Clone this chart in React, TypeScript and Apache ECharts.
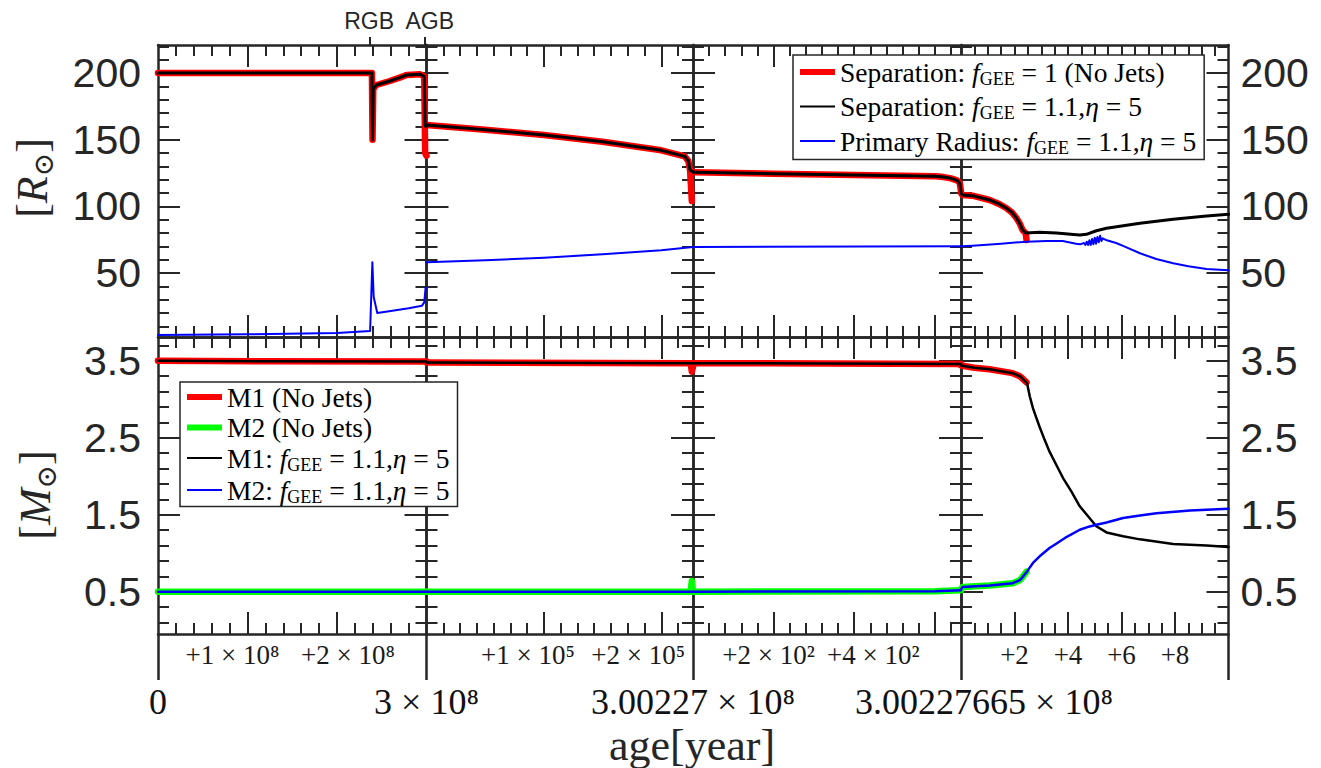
import React, { useEffect, useRef } from 'react';
import * as echarts from 'echarts';

const SERIF = '"Liberation Serif", "DejaVu Serif", serif';
const SANS = '"Liberation Sans", Arial, sans-serif';
const AX = '#262626';

// ---- axes (x per panel: P1 in 1e8 yr, P2 in 1e5 yr, P3 & P4 in yr, all offsets from panel start)
const PANEL_MAX = [3, 2.27, 665, 10];
const X_MAJOR = [[1, 2], [1, 2], [200, 400, 600], [2, 4, 6, 8]];
const X_MINOR_STEP = [0.2, 1 / 7, 40, 0.5];
const X_LABEL_VALUES = [[1, 2], [1, 2], [200, 400], [2, 4, 6, 8]];
const X_LABEL_TEXT = [
  ['+1 × 10⁸', '+2 × 10⁸'],
  ['+1 × 10⁵', '+2 × 10⁵'],
  ['+2 × 10²', '+4 × 10²'],
  ['+2', '+4', '+6', '+8'],
];
const X_LABEL_SHIFT = [[-15, 11], [-16, -23], [-5, 19], [0, 0, 0, 0]];
const EDGE_VALUES = [[0, 3], [2.27], [665], [] as number[]];
const EDGE_TEXT = [['0', '3 × 10⁸'], ['3.00227 × 10⁸'], ['3.00227665 × 10⁸'], [] as string[]];
const STAGE_VALUES = [2.37, 2.98];
const STAGE_TEXT = ['RGB', 'AGB'];
const STAGE_SHIFT = [-1, 5];
const Y_RANGE = [[2, 221], [-0.05, 3.81]];
const Y_MAJOR = [[50, 100, 150, 200], [0.5, 1.5, 2.5, 3.5]];
const Y_LABEL_TEXT = [['50', '100', '150', '200'], ['0.5', '1.5', '2.5', '3.5']];
const Y_MINOR = [[10, 220, 10], [0.1, 3.7, 0.2]];

// ---- series names
const N_SEP0 = 'Separation: fGEE = 1 (No Jets)';
const N_SEP1 = 'Separation: fGEE = 1.1,η = 5';
const N_RAD = 'Primary Radius: fGEE = 1.1,η = 5';
const N_M1A = 'M1 (No Jets)';
const N_M2A = 'M2 (No Jets)';
const N_M1B = 'M1: fGEE = 1.1,η = 5';
const N_M2B = 'M2: fGEE = 1.1,η = 5';

// ---- data: top row [R_sun]
const SEP_NOJETS = [
  [[0, 200], [2.39, 200], [2.397, 150], [2.405, 188], [2.44, 191], [2.59, 194], [2.7, 196.5], [2.78, 198.5], [2.93, 199], [2.975, 197.5], [2.985, 140], [3, 138]],
  [[0, 161], [0.5, 157.5], [1, 153.5], [1.5, 148.5], [2, 142], [2.2, 137.5], [2.23, 134], [2.245, 127], [2.26, 104]],
  [[0, 125.5], [200, 124.5], [400, 123.5], [600, 122.5], [617, 122.2], [640, 121], [655, 119.5], [662, 117.5], [665, 111]],
  [[0, 110], [0.05, 108.5], [0.43, 108], [1.07, 104.75], [1.4, 102], [1.69, 98.75], [1.9, 95.5], [2.07, 91.25], [2.2, 87], [2.3, 82.25], [2.42, 79.8], [2.45, 74.75]],
];
const SEP_JETS = [
  [[0, 200], [2.39, 200], [2.397, 150], [2.405, 188], [2.44, 191], [2.59, 194], [2.7, 196.5], [2.78, 198.5], [2.93, 199], [2.975, 197.5], [2.985, 160], [3, 160]],
  [[0, 161], [0.5, 157.5], [1, 153.5], [1.5, 148.5], [2, 142], [2.2, 137.5], [2.23, 134], [2.245, 127], [2.27, 126]],
  [[0, 125.5], [200, 124.5], [400, 123.5], [600, 122.5], [617, 122.2], [640, 121], [655, 119.5], [662, 117.5], [665, 111]],
  [[0, 110], [0.05, 108.5], [0.43, 108], [1.07, 104.75], [1.4, 102], [1.69, 98.75], [1.9, 95.5], [2.07, 91.25], [2.2, 87], [2.3, 82.25], [2.42, 80], [2.94, 80.5], [3.57, 80], [4.1, 79], [4.44, 78.5], [4.69, 79], [5.06, 81.7], [5.44, 83.5], [6.69, 87.3], [7.93, 90.3], [9.18, 92.75], [10, 94]],
];
const RADIUS = [
  [[0, 3.5], [1, 4], [2, 5], [2.37, 6.5], [2.395, 58], [2.41, 32], [2.45, 20], [2.6, 21.5], [2.8, 23.5], [2.95, 25.5], [2.975, 28], [2.99, 39], [3, 39]],
  [[0, 58], [0.5, 59.5], [1, 61.5], [1.5, 64], [2, 67], [2.27, 69.5]],
  [[0, 69.5], [665, 70]],
  [[0, 70], [0.43, 70.5], [1.5, 72], [2.45, 73.5], [3.2, 74], [3.8, 74], [4.3, 72], [4.45, 71.5], [4.6, 72.5], [4.65, 71], [4.7, 73.5], [4.75, 71], [4.8, 74.5], [4.85, 71], [4.9, 75.5], [4.95, 71.5], [5.0, 76.5], [5.05, 72], [5.1, 77], [5.15, 73], [5.2, 78], [5.25, 74], [5.3, 76], [5.45, 74.5], [5.8, 72.5], [6.1, 70], [6.69, 64.8], [7.3, 60.5], [7.93, 57.3], [8.5, 55], [9.18, 53], [10, 52]],
];

// ---- data: bottom row [M_sun]
const M1_NOJETS = [
  [[0, 3.5], [3, 3.49]],
  [[0, 3.48], [2.25, 3.47], [2.26, 3.36], [2.27, 3.42]],
  [[0, 3.47], [665, 3.46]],
  [[0, 3.44], [0.5, 3.41], [1.07, 3.39], [1.93, 3.34], [2.2, 3.3], [2.3, 3.27], [2.45, 3.22]],
];
const M2_NOJETS = [
  [[0, 0.5], [3, 0.5]],
  [[0, 0.5], [2.25, 0.5], [2.26, 0.64], [2.27, 0.5]],
  [[0, 0.5], [600, 0.505], [665, 0.52]],
  [[0, 0.53], [0.05, 0.56], [1.07, 0.58], [1.93, 0.61], [2.2, 0.65], [2.3, 0.69], [2.45, 0.76]],
];
const M1_JETS = [
  [[0, 3.5], [3, 3.49]],
  [[0, 3.48], [2.27, 3.47]],
  [[0, 3.47], [665, 3.46]],
  [[0, 3.44], [0.5, 3.41], [1.07, 3.39], [1.93, 3.34], [2.2, 3.3], [2.3, 3.27], [2.47, 3.21], [2.57, 3.04], [2.69, 2.886], [2.82, 2.756], [2.94, 2.64], [3.13, 2.47], [3.31, 2.32], [3.56, 2.15], [3.81, 1.98], [4.13, 1.8], [4.44, 1.61], [4.75, 1.48], [5.06, 1.35], [5.44, 1.27], [6.06, 1.22], [6.69, 1.18], [7.93, 1.12], [9.18, 1.1], [10, 1.08]],
];
const M2_JETS = [
  [[0, 0.5], [3, 0.5]],
  [[0, 0.5], [2.27, 0.5]],
  [[0, 0.5], [600, 0.505], [665, 0.52]],
  [[0, 0.53], [0.05, 0.56], [1.07, 0.58], [1.93, 0.61], [2.2, 0.65], [2.3, 0.69], [2.47, 0.764], [2.69, 0.873], [2.94, 0.96], [3.31, 1.068], [3.56, 1.123], [3.94, 1.21], [4.44, 1.305], [4.81, 1.348], [5.06, 1.37], [5.44, 1.4], [6.06, 1.457], [6.69, 1.49], [7.31, 1.52], [8.56, 1.556], [10, 1.578]],
];

// ---- layout
const COL_X = [158, 426.5, 693, 961, 1228.5];
const ROW_Y = [45, 337, 634];

const steps = (start: number, end: number, step: number, exclude: number[]) => {
  const out: number[] = [];
  const n = Math.floor((end - start) / step + 1e-9);
  for (let k = 0; k <= n; k++) {
    const v = +(start + k * step).toFixed(6);
    if (!exclude.some((e) => Math.abs(e - v) < 1e-6)) out.push(v);
  }
  return out;
};
const nearest = (vals: number[], v: number) => {
  let best = 0;
  for (let i = 1; i < vals.length; i++) if (Math.abs(vals[i] - v) < Math.abs(vals[best] - v)) best = i;
  return best;
};
const pick = (vals: number[], texts: string[], v: number) => texts[nearest(vals, v)];
const richName = (n: string) =>
  ('{t|' + n.replace('fGEE', '}{i|f}{s|GEE}{t|').replace('η', '}{i|η}{t|') + '}').replace(/\{t\|\}/g, '');
const shiftPad = (s: number) => (s >= 0 ? [0, 0, 0, 2 * s] : [0, -2 * s, 0, 0]);

const THICK = 'path://M0 0H35V6H0Z';
const THIN = 'path://M0 0H35V2H0Z';

function buildOption() {
  const grid: any[] = [];
  const xAxis: any[] = [];
  const yAxis: any[] = [];
  const series: any[] = [];
  const xi: number[][] = [[], []];
  const yi: number[][] = [[], []];
  const tickStyle = { color: AX, width: 2 };
  const lineAx = { color: AX, width: 2.5 };

  for (let r = 0; r < 2; r++) {
    for (let c = 0; c < 4; c++) {
      const g = grid.length;
      grid.push({ left: COL_X[c], top: ROW_Y[r], width: COL_X[c + 1] - COL_X[c], height: ROW_Y[r + 1] - ROW_Y[r] });
      const xb = {
        type: 'value', gridIndex: g, min: 0, max: PANEL_MAX[c],
        splitLine: { show: false }, axisLine: { show: false, onZero: false },
        axisTick: { show: false }, axisLabel: { show: false },
      };
      const xMinor = steps(0, PANEL_MAX[c], X_MINOR_STEP[c], [0, PANEL_MAX[c], ...X_MAJOR[c]]);
      const xRich: any = {};
      X_LABEL_SHIFT[c].forEach((s, k) => {
        xRich['a' + k] = { fontFamily: SERIF, fontSize: 27, color: '#1a1a1a', padding: shiftPad(s) };
      });
      xi[r][c] = xAxis.length;
      xAxis.push({
        ...xb, position: 'bottom',
        axisLine: { show: true, onZero: false, lineStyle: lineAx },
        axisTick: { show: true, inside: true, length: 22, customValues: X_MAJOR[c], lineStyle: tickStyle },
        axisLabel: r === 1 ? {
          show: true, customValues: X_LABEL_VALUES[c], showMinLabel: true, showMaxLabel: true,
          formatter: (v: number) => {
            const k = nearest(X_LABEL_VALUES[c], v);
            return '{a' + k + '|' + X_LABEL_TEXT[c][k] + '}';
          },
          rich: xRich,
          fontFamily: SERIF, fontSize: 27, color: '#1a1a1a', margin: 7,
        } : { show: false },
      });
      xAxis.push({ ...xb, position: 'bottom', axisTick: { show: true, inside: true, length: 11, customValues: xMinor, lineStyle: tickStyle } });
      xAxis.push({
        ...xb, position: 'top',
        axisLine: { show: true, onZero: false, lineStyle: lineAx },
        axisTick: { show: true, inside: true, length: 22, customValues: X_MAJOR[c], lineStyle: tickStyle },
      });
      xAxis.push({ ...xb, position: 'top', axisTick: { show: true, inside: true, length: 11, customValues: xMinor, lineStyle: tickStyle } });
      if (r === 1) {
        const ev = c === 0 ? [0, PANEL_MAX[0]] : [PANEL_MAX[c]];
        xAxis.push({
          ...xb, position: 'bottom',
          axisTick: { show: true, inside: false, length: 46, customValues: ev, lineStyle: { color: AX, width: 2.5 } },
          axisLabel: EDGE_VALUES[c].length ? {
            show: true, customValues: EDGE_VALUES[c], showMinLabel: true, showMaxLabel: true,
            formatter: (v: number) => {
              const t = pick(EDGE_VALUES[c], EDGE_TEXT[c], v);
              return c === 2 ? '{sh|' + t + '}' : t;
            },
            fontFamily: SERIF, fontSize: 36, color: '#111', margin: 50,
            rich: { sh: { fontFamily: SERIF, fontSize: 36, color: '#111', padding: [0, 0, 0, 46] } },
          } : { show: false },
        });
      }
      if (r === 0 && c === 0) {
        const sRich: any = {};
        STAGE_SHIFT.forEach((s, k) => {
          sRich['g' + k] = { fontFamily: SANS, fontSize: 23, color: AX, padding: shiftPad(s) };
        });
        xAxis.push({
          ...xb, position: 'top',
          axisTick: { show: true, inside: false, length: 8, customValues: STAGE_VALUES, lineStyle: tickStyle },
          axisLabel: {
            show: true, customValues: STAGE_VALUES, showMinLabel: true, showMaxLabel: true,
            formatter: (v: number) => {
              const k = nearest(STAGE_VALUES, v);
              return '{g' + k + '|' + STAGE_TEXT[k] + '}';
            },
            rich: sRich,
            fontFamily: SANS, fontSize: 23, color: AX, margin: 13,
          },
        });
      }

      const yb = {
        type: 'value', gridIndex: g, min: Y_RANGE[r][0], max: Y_RANGE[r][1],
        splitLine: { show: false }, axisLine: { show: false, onZero: false },
        axisTick: { show: false }, axisLabel: { show: false },
      };
      const yMinor = steps(Y_MINOR[r][0], Y_MINOR[r][1], Y_MINOR[r][2], Y_MAJOR[r]);
      const yLab = {
        show: true, customValues: Y_MAJOR[r], showMinLabel: true, showMaxLabel: true,
        formatter: (v: number) => pick(Y_MAJOR[r], Y_LABEL_TEXT[r], v),
        fontFamily: SANS, fontSize: 41, color: AX,
      };
      yi[r][c] = yAxis.length;
      yAxis.push({
        ...yb, position: 'left',
        axisLine: { show: true, onZero: false, lineStyle: lineAx },
        axisTick: { show: true, inside: true, length: 22, customValues: Y_MAJOR[r], lineStyle: tickStyle },
        axisLabel: c === 0 ? { ...yLab, margin: 17 } : { show: false },
      });
      yAxis.push({ ...yb, position: 'left', axisTick: { show: true, inside: true, length: 11, customValues: yMinor, lineStyle: tickStyle } });
      yAxis.push({
        ...yb, position: 'right',
        axisLine: { show: true, onZero: false, lineStyle: lineAx },
        axisTick: { show: true, inside: true, length: 22, customValues: Y_MAJOR[r], lineStyle: tickStyle },
        axisLabel: c === 3 ? { ...yLab, margin: 12 } : { show: false },
      });
      yAxis.push({ ...yb, position: 'right', axisTick: { show: true, inside: true, length: 11, customValues: yMinor, lineStyle: tickStyle } });
    }
  }

  const defs = [
    { r: 0, name: N_SEP0, color: '#ff0000', width: 6.5, data: SEP_NOJETS },
    { r: 0, name: N_SEP1, color: '#000000', width: 3, data: SEP_JETS },
    { r: 0, name: N_RAD, color: '#0000ff', width: 2, data: RADIUS },
    { r: 1, name: N_M1A, color: '#ff0000', width: 6.5, data: M1_NOJETS },
    { r: 1, name: N_M2A, color: '#00ff00', width: 6.5, data: M2_NOJETS },
    { r: 1, name: N_M1B, color: '#000000', width: 2.5, data: M1_JETS },
    { r: 1, name: N_M2B, color: '#0000ff', width: 2.5, data: M2_JETS },
  ];
  defs.forEach((d, k) => {
    for (let c = 0; c < 4; c++) {
      series.push({
        type: 'line', name: d.name, xAxisIndex: xi[d.r][c], yAxisIndex: yi[d.r][c],
        data: d.data[c], showSymbol: false, symbol: 'none', color: d.color,
        lineStyle: { color: d.color, width: d.width, join: 'round', cap: 'round' },
        itemStyle: { color: d.color }, z: 2 + k, silent: true, animation: false,
      });
    }
  });

  const legendRich = {
    t: { fontFamily: SERIF, fontSize: 27.5, color: '#000', lineHeight: 31 },
    i: { fontFamily: SERIF, fontSize: 27.5, fontStyle: 'italic', color: '#000', lineHeight: 31 },
    s: { fontFamily: SERIF, fontSize: 18, color: '#000', lineHeight: 21, verticalAlign: 'bottom' },
  };
  const legendBase = {
    orient: 'vertical', selectedMode: false, itemWidth: 35, itemHeight: 6,
    backgroundColor: '#ffffff', borderColor: AX, borderWidth: 1.5, borderRadius: 0,
    formatter: richName, textStyle: { fontFamily: SERIF, fontSize: 27.5, color: '#000', rich: legendRich },
    symbolKeepAspect: true, z: 20,
  };
  const titleRich = {
    b: { fontFamily: SERIF, fontSize: 44, color: AX, lineHeight: 50 },
    i: { fontFamily: SERIF, fontSize: 44, fontStyle: 'italic', color: AX, lineHeight: 50 },
    s: { fontFamily: '"DejaVu Serif", serif', fontSize: 28, color: AX, lineHeight: 32, verticalAlign: 'bottom' },
  };

  return {
    animation: false,
    backgroundColor: '#ffffff',
    grid, xAxis, yAxis, series,
    legend: [
      {
        ...legendBase, left: 793, top: 55, itemGap: 5, padding: [3, 8, 3, 7],
        data: [
          { name: N_SEP0, icon: THICK, itemStyle: { color: '#ff0000' } },
          { name: N_SEP1, icon: THIN, itemStyle: { color: '#000000' } },
          { name: N_RAD, icon: THIN, itemStyle: { color: '#0000ff' } },
        ],
      },
      {
        ...legendBase, left: 180, top: 382, itemGap: 2.5, padding: [1, 8, 1, 7],
        data: [
          { name: N_M1A, icon: THICK, itemStyle: { color: '#ff0000' } },
          { name: N_M2A, icon: THICK, itemStyle: { color: '#00ff00' } },
          { name: N_M1B, icon: THIN, itemStyle: { color: '#000000' } },
          { name: N_M2B, icon: THIN, itemStyle: { color: '#0000ff' } },
        ],
      },
    ],
    graphic: [
      {
        type: 'text', x: 32, y: 178, rotation: Math.PI / 2, z: 30,
        style: { text: '{b|[}{i|R}{s|⊙}{b|]}', rich: titleRich, align: 'center', verticalAlign: 'middle', fill: AX },
      },
      {
        type: 'text', x: 35, y: 495, rotation: Math.PI / 2, z: 30,
        style: { text: '{b|[}{i|M}{s|⊙}{b|]}', rich: titleRich, align: 'center', verticalAlign: 'middle', fill: AX },
      },
      {
        type: 'text', x: 692, y: 745, z: 30,
        style: { text: 'age[year]', fontFamily: SERIF, fontSize: 44, fill: AX, align: 'center', verticalAlign: 'middle' },
      },
    ],
  };
}

export default function App() {
  const ref = useRef<HTMLDivElement>(null);
  useEffect(() => {
    if (!ref.current) return;
    const chart = echarts.init(ref.current, undefined, { renderer: 'svg' });
    chart.setOption(buildOption() as any);
    return () => chart.dispose();
  }, []);
  return (
    <div
      ref={ref}
      style={{ position: 'absolute', left: 0, top: 0, width: 1321, height: 768, background: '#fff' }}
    />
  );
}
